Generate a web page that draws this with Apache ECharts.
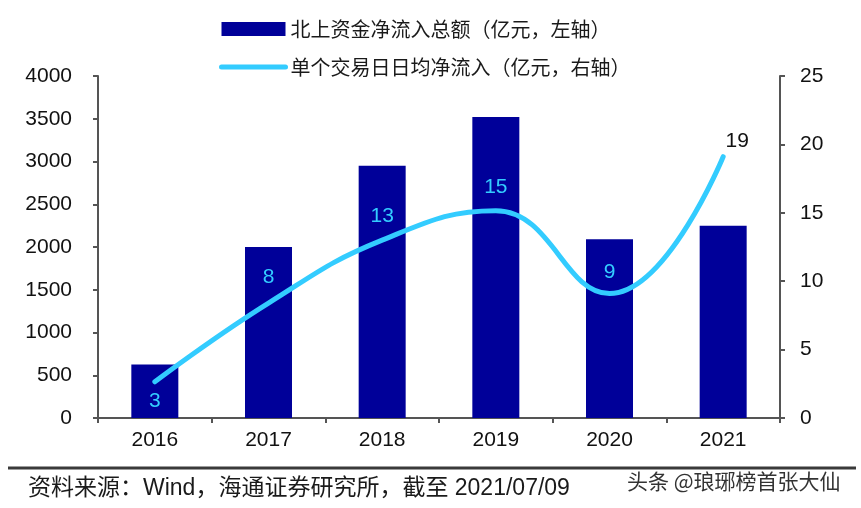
<!DOCTYPE html>
<html>
<head>
<meta charset="utf-8">
<script src="https://cdn.jsdelivr.net/npm/echarts@6/dist/echarts.min.js"></script>
<style>html,body{margin:0;padding:0;background:#fff;}#c{width:861px;height:508px;}</style>
</head>
<body>
<div id="c"></div>
<script>
const categories = ['2016', '2017', '2018', '2019', '2020', '2021'];
const totalInflow = [625, 2000, 2950, 3520, 2090, 2250];
const dailyAvgInflow = [2.65, 8.4, 13.0, 15.15, 9.1, 19.1];
const leftTicks = { min: 0, max: 4000, interval: 500 };
const rightTicks = { min: 0, max: 25, interval: 5 };
const barName = '北上资金净流入总额（亿元，左轴）';
const lineName = '单个交易日日均净流入（亿元，右轴）';
const sourceText = '资料来源：Wind，海通证券研究所，截至 2021/07/09';
const watermarkText = '头条 @琅琊榜首张大仙';

// label styling per point (style only)
const LINE_COLOR = '#33CCFF';
const labelStyles = [
  { position: 'bottom', distance: 8, color: LINE_COLOR },
  { position: 'top', distance: 14, color: LINE_COLOR },
  { position: 'top', distance: 12, color: LINE_COLOR },
  { position: 'top', distance: 12, color: LINE_COLOR },
  { position: 'top', distance: 10, color: LINE_COLOR },
  { position: 'top', distance: 4, color: '#111', offset: [14, 0] }
];

const latin = 'Liberation Sans, Arial, Noto Sans CJK SC, sans-serif';
const cjk = 'Noto Sans CJK SC, sans-serif';

const chart = echarts.init(document.getElementById('c'), null, { renderer: 'canvas' });
chart.setOption({
  animation: false,
  backgroundColor: '#fff',
  grid: { left: 98, right: 81, top: 76, bottom: 90 },
  legend: {
    orient: 'vertical',
    left: 214,
    top: 14,
    itemWidth: 64,
    itemHeight: 14,
    itemGap: 18,
    textStyle: { fontFamily: cjk, fontSize: 20, color: '#1a1a1a', lineHeight: 20, padding: [0, 0, 0, 0] },
    data: [
      { name: barName, icon: 'rect' },
      { name: lineName, itemStyle: { opacity: 0 }, lineStyle: { width: 5, cap: 'round' } }
    ]
  },
  xAxis: {
    type: 'category',
    data: categories,
    axisLine: { lineStyle: { color: '#555', width: 2 } },
    axisTick: { show: true, length: 5, lineStyle: { color: '#555', width: 2 } },
    axisLabel: { fontFamily: latin, fontSize: 21, color: '#111', margin: 12 }
  },
  yAxis: [
    {
      type: 'value', min: leftTicks.min, max: leftTicks.max, interval: leftTicks.interval,
      splitLine: { show: false },
      axisLine: { show: true, lineStyle: { color: '#555', width: 2 } },
      axisTick: { show: true, length: 5, lineStyle: { color: '#555', width: 2 } },
      axisLabel: { fontFamily: latin, fontSize: 21, color: '#111', margin: 26, formatter: v => String(v) }
    },
    {
      type: 'value', min: rightTicks.min, max: rightTicks.max, interval: rightTicks.interval,
      splitLine: { show: false },
      axisLine: { show: true, lineStyle: { color: '#555', width: 2 } },
      axisTick: { show: true, length: 5, lineStyle: { color: '#555', width: 2 } },
      axisLabel: { fontFamily: latin, fontSize: 21, color: '#111', margin: 20, formatter: v => String(v) }
    }
  ],
  series: [
    {
      name: barName,
      type: 'bar',
      yAxisIndex: 0,
      data: totalInflow,
      barWidth: 47,
      itemStyle: { color: '#000099' }
    },
    {
      name: lineName,
      type: 'line',
      yAxisIndex: 1,
      smooth: 0.45,
      symbol: 'circle',
      symbolSize: 2,
      itemStyle: { color: LINE_COLOR },
      lineStyle: { color: LINE_COLOR, width: 5, cap: 'round' },
      data: dailyAvgInflow.map((v, i) => ({
        value: v,
        label: Object.assign({
          show: true,
          fontFamily: latin,
          fontSize: 21,
          formatter: p => String(Math.round(p.value))
        }, labelStyles[i])
      }))
    }
  ],
  graphic: [
    {
      type: 'line',
      shape: { x1: 8, y1: 468, x2: 856, y2: 468 },
      style: { stroke: '#3a3a3a', lineWidth: 3 }
    },
    {
      type: 'text',
      left: 28, top: 477,
      style: { text: sourceText, fontFamily: latin, fontSize: 23, fill: '#1a1a1a' }
    },
    {
      type: 'text',
      left: 627, top: 471,
      style: { text: watermarkText, fontFamily: cjk, fontSize: 21, fill: '#333' }
    }
  ]
});
</script>
</body>
</html>
